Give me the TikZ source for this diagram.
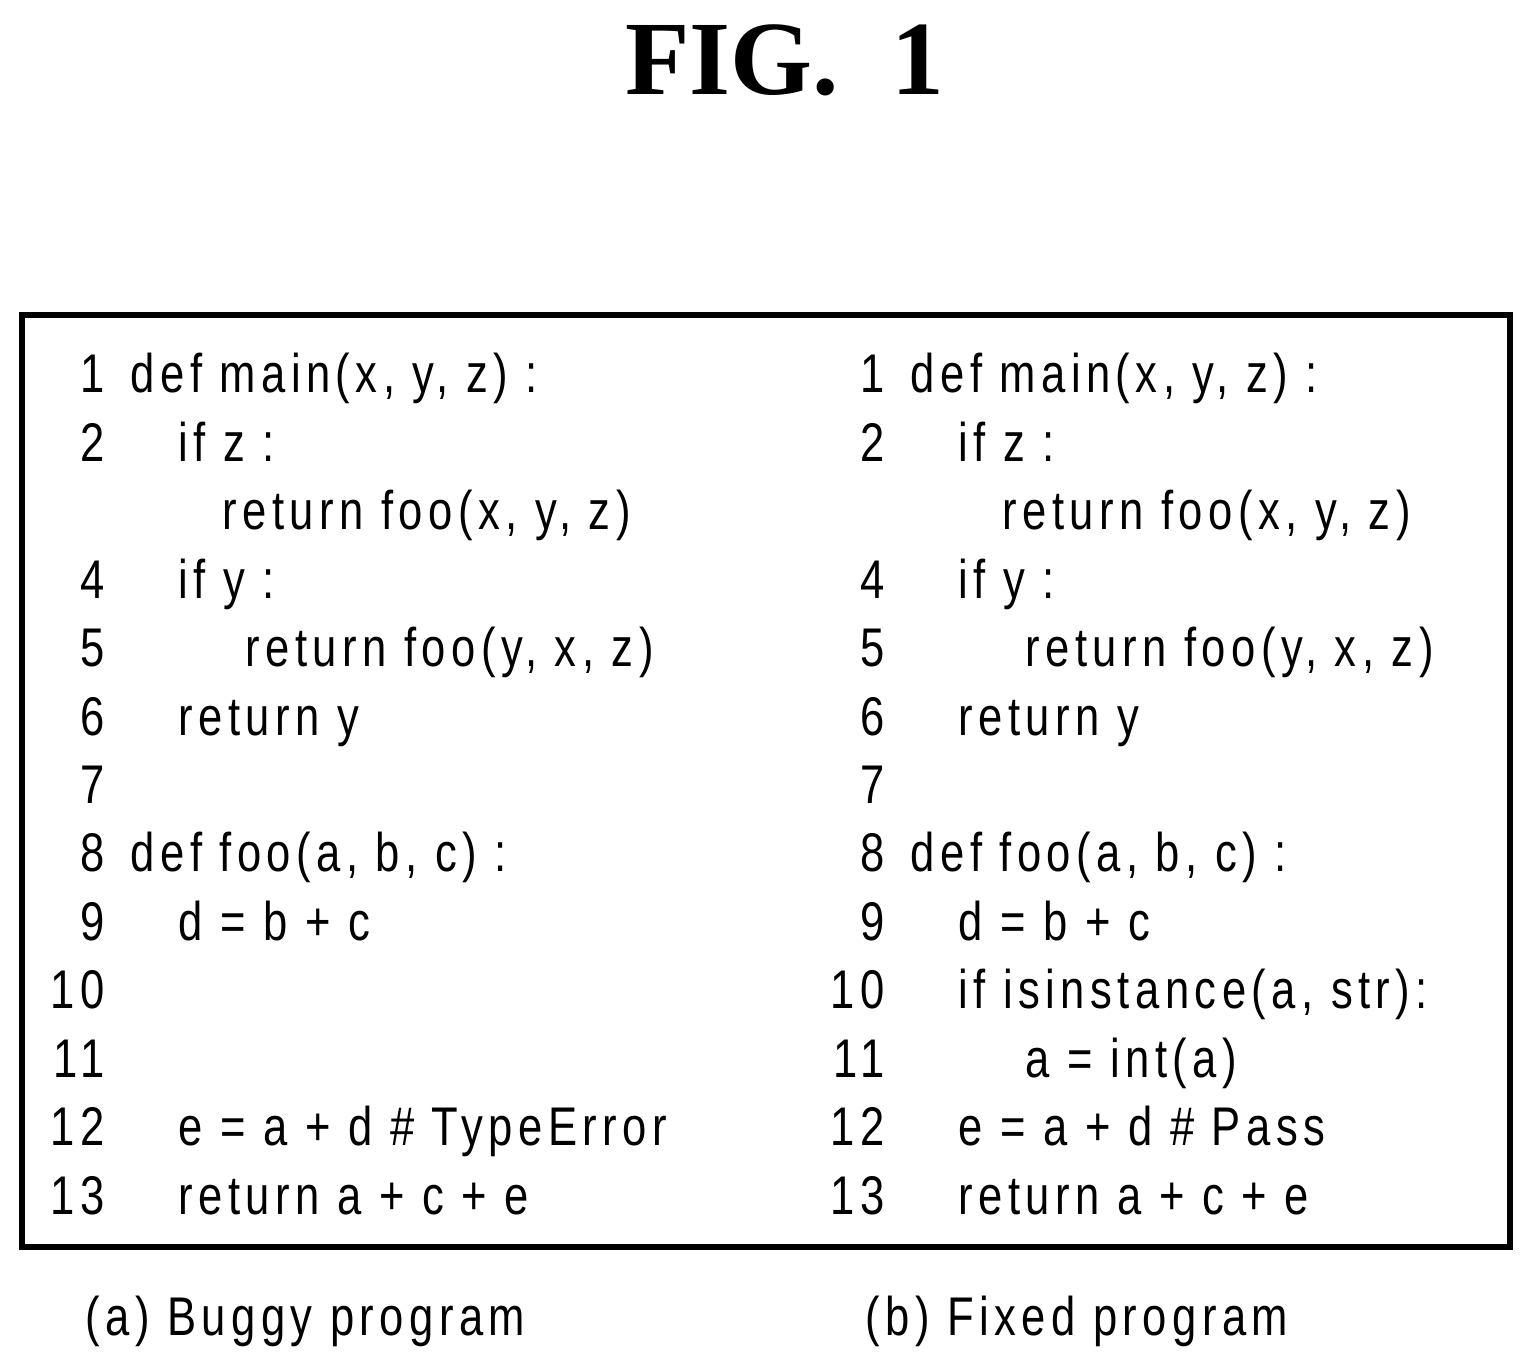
\documentclass[tikz,border=0pt]{standalone}
\usepackage{fontspec}
\setmainfont{Liberation Serif}
\newfontfamily\codefont[FakeStretch=0.8,LetterSpace=10]{Liberation Sans}
\usetikzlibrary{positioning}
\tikzset{
  num/.style={anchor=base east, inner sep=0pt, font=\codefont\fontsize{15.5}{18}\selectfont},
  code/.style={anchor=base west, inner sep=0pt, font=\codefont\fontsize{15.5}{18}\selectfont},
  frame/.style={draw, line width=1.5pt}
}
\begin{document}
\begin{tikzpicture}
\useasboundingbox (0,0) rectangle (15.33,-13.6);
\node[font=\bfseries\fontsize{30}{34}\selectfont, inner sep=0pt] (title) at (7.85,-0.6) {FIG.\ \ 1};
\node[frame, minimum width=14.88cm, minimum height=9.32cm, inner sep=0pt] (box) at (7.66,-7.81) {};
% left column: buggy program
\foreach \n/\x/\txt in {1/1.30/{def main(x, y, z) :}, 2/1.78/{if z :}, 3/2.22/{return foo(x, y, z)},
  4/1.78/{if y :}, 5/2.45/{return foo(y, x, z)}, 6/1.78/{return y}, 7/1.30/{},
  8/1.30/{def foo(a, b, c) :}, 9/1.78/{d = b + c}, 10/1.78/{}, 11/1.78/{},
  12/1.78/{e = a + d \# TypeError}, 13/1.78/{return a + c + e}}{
  \pgfmathsetmacro\y{-3.93-0.6842*(\n-1)}
  \ifnum\n=3\else\node[num] (la\n) at (1.05,\y) {\n};\fi
  \node[code] (ca\n) at (\x,\y) {\txt};
}
% right column: fixed program
\foreach \n/\x/\txt in {1/9.10/{def main(x, y, z) :}, 2/9.58/{if z :}, 3/10.02/{return foo(x, y, z)},
  4/9.58/{if y :}, 5/10.25/{return foo(y, x, z)}, 6/9.58/{return y}, 7/9.10/{},
  8/9.10/{def foo(a, b, c) :}, 9/9.58/{d = b + c}, 10/9.58/{if isinstance(a, str):}, 11/10.25/{a = int(a)},
  12/9.58/{e = a + d \# Pass}, 13/9.58/{return a + c + e}}{
  \pgfmathsetmacro\y{-3.93-0.6842*(\n-1)}
  \ifnum\n=3\else\node[num] (lb\n) at (8.85,\y) {\n};\fi
  \node[code] (cb\n) at (\x,\y) {\txt};
}
\node[code] (capa) at (0.85,-13.35) {(a) Buggy program};
\node[code] (capb) at (8.65,-13.35) {(b) Fixed program};
\end{tikzpicture}
\end{document}
